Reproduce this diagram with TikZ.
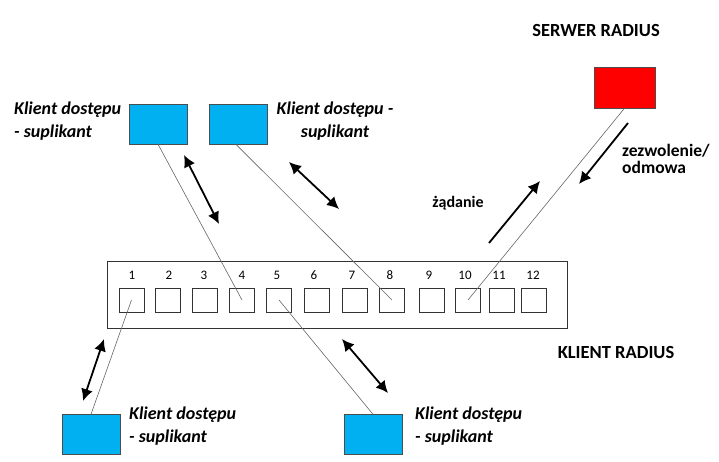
\documentclass[tikz,border=0pt]{standalone}
\usepackage{fontspec}
\setmainfont{Carlito}
\usetikzlibrary{arrows.meta}
\definecolor{klientblue}{HTML}{00B0F0}
\definecolor{serwerred}{HTML}{FF0000}
\tikzset{klient/.style={draw=black!70,fill=klientblue,minimum width=58pt,minimum height=40pt,inner sep=0pt}}
\tikzset{port/.style={draw=black!80,minimum width=25pt,minimum height=24pt,inner sep=0pt}}
\tikzset{link/.style={draw=black!60,line width=0.6pt}}
\tikzset{dbl/.style={{Latex[length=12pt,width=12pt]}-{Latex[length=12pt,width=12pt]},line width=1.8pt}}
\tikzset{jedna/.style={-{Latex[length=12pt,width=12pt]},line width=1.8pt}}
\tikzset{opis/.style={font=\bfseries\itshape\fontsize{18}{23}\selectfont,inner sep=0pt}}
\tikzset{tytul/.style={font=\bfseries\fontsize{18.5}{19}\selectfont,inner sep=0pt}}

\begin{document}
\begin{tikzpicture}[x=1pt,y=-1pt]
      \useasboundingbox (0,0) rectangle (719,462);
      % przelacznik
      \node [draw=black!80,minimum width=460pt,minimum height=67pt,inner sep=0pt] (switch) at (337,294.5) {};
      \foreach \n/\x/\lx in {1/131.5/132,2/168/169,3/205/204,4/242/242,5/279/277,6/317/314,7/355/352,8/392/390,9/432/429,10/468/465,11/502/499,12/534/533}
        {
        \node [port] (p\n) at (\x,300) {};
        \node [font=\fontsize{13}{13}\selectfont] (n\n) at (\lx,275) {\n};
        }
      % klienci i serwer
      \node [klient] (k1) at (158,124) {};
      \node [klient] (k2) at (238,124) {};
      \node [klient] (k3) at (91,434.5) {};
      \node [klient] (k4) at (373,434.5) {};
      \node [draw=black!70,fill=serwerred,minimum width=61pt,minimum height=41pt,inner sep=0pt] (serwer) at (624.5,87.5) {};
      % polaczenia
      \draw [link] (k1.south) -- (p4.center);
      \draw [link] (k2.south west) ++(27,0) -- (p8.center);
      \draw [link] (p1.center) -- (k3.north);
      \draw [link] (p5.center) -- (k4.north);
      \draw [link] (serwer.south) -- (p10.center);
      % strzalki
      \coordinate (a1) at (184,155); \coordinate (b1) at (219,224);
      \coordinate (a2) at (289,162); \coordinate (b2) at (339,209);
      \coordinate (a3) at (104,339); \coordinate (b3) at (83,401);
      \coordinate (a4) at (342,339); \coordinate (b4) at (388,393);
      \coordinate (a5) at (489,243); \coordinate (b5) at (540,181);
      \coordinate (a6) at (628,123); \coordinate (b6) at (579,184);
      \draw [dbl] (a1) -- (b1);
      \draw [dbl] (a2) -- (b2);
      \draw [dbl] (a3) -- (b3);
      \draw [dbl] (a4) -- (b4);
      \draw [jedna] (a5) -- (b5);
      \draw [jedna] (a6) -- (b6);
      % opisy
      \node [opis,anchor=north west,align=left] (o1) at (14,102) {Klient dostępu\\- suplikant};
      \node [opis,anchor=north,align=center] (o2) at (335,102) {Klient dostępu -\\suplikant};
      \node [opis,anchor=north west,align=left] (o3) at (129,407) {Klient dostępu\\- suplikant};
      \node [opis,anchor=north west,align=left] (o4) at (415,407) {Klient dostępu\\- suplikant};
      \node [tytul] (serwerlbl) at (596,31) {SERWER RADIUS};
      \node [tytul] (klientlbl) at (616,352) {KLIENT RADIUS};
      \node [tytul,font=\bfseries\fontsize{16}{16}\selectfont] (zadanie) at (458,203) {żądanie};
      \node [tytul,anchor=north west,align=left,font=\bfseries\fontsize{17.5}{17}\selectfont] (zezw) at (622,144) {zezwolenie/\\odmowa};
    \end{tikzpicture}
\end{document}
